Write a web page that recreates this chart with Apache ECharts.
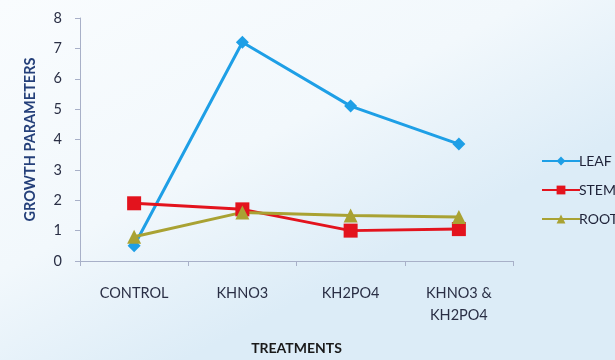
<!DOCTYPE html>
<html>
<head>
<meta charset="utf-8">
<script src="https://cdn.jsdelivr.net/npm/echarts@6/dist/echarts.min.js"></script>
<style>
  html, body { margin: 0; padding: 0; }
  #chart { width: 615px; height: 360px; }
</style>
</head>
<body>
<div id="chart"></div>
<script>
// Treatments on the x axis
const treatments = ['CONTROL', 'KHNO3', 'KH2PO4', 'KHNO3 &\nKH2PO4'];
// Growth parameter values per plant part
const leaf = [0.5, 7.2, 5.1, 3.85];
const stem = [1.9, 1.7, 1.0, 1.05];
const root = [0.8, 1.6, 1.5, 1.45];
const yTicks = [0, 1, 2, 3, 4, 5, 6, 7, 8];

const FONT = 'Lato, "Open Sans", sans-serif';
const chart = echarts.init(document.getElementById('chart'));

chart.setOption({
  backgroundColor: new echarts.graphic.LinearGradient(0, 0, 0.3, 1, [
    { offset: 0, color: '#f9fcfe' },
    { offset: 0.6, color: '#f2f8fc' },
    { offset: 1, color: '#dcecf7' }
  ]),
  textStyle: { fontFamily: FONT },
  grid: { left: 80, right: 102, top: 18, bottom: 98 },
  legend: {
    orient: 'vertical',
    left: 536,
    top: 149,
    itemGap: 15,
    itemWidth: 38,
    itemHeight: 11,
    textStyle: { fontFamily: FONT, fontSize: 14, color: '#1e2238', padding: [0, 0, 0, -6] },
    data: ['LEAF', 'STEM', 'ROOT']
  },
  xAxis: {
    type: 'category',
    data: treatments,
    boundaryGap: true,
    name: 'TREATMENTS',
    nameLocation: 'middle',
    nameGap: 80,
    nameTextStyle: { fontFamily: FONT, fontWeight: 'bold', fontSize: 14, color: '#1a1a1a' },
    axisLine: { lineStyle: { color: '#a8b0c8', width: 1 } },
    axisTick: { show: true, length: 5, lineStyle: { color: '#a8b0c8' } },
    axisLabel: { fontFamily: FONT, fontSize: 14.5, color: '#2a2f45', margin: 21, lineHeight: 22, verticalAlign: 'top' }
  },
  yAxis: {
    type: 'value',
    min: yTicks[0],
    max: yTicks[yTicks.length - 1],
    interval: 1,
    name: 'GROWTH PARAMETERS',
    nameLocation: 'middle',
    nameGap: 42,
    nameRotate: 90,
    nameTextStyle: { fontFamily: FONT, fontWeight: 'bold', fontSize: 14.5, color: '#25407a' },
    axisLine: { show: true, lineStyle: { color: '#a8b0c8', width: 1 } },
    axisTick: { show: true, length: 5, lineStyle: { color: '#a8b0c8' } },
    splitLine: { show: false },
    axisLabel: { fontFamily: FONT, fontSize: 14.5, color: '#2a2f45', margin: 18 }
  },
  series: [
    {
      name: 'LEAF', type: 'line', data: leaf,
      symbol: 'diamond', symbolSize: 13,
      itemStyle: { color: '#1e9fe6' },
      lineStyle: { color: '#1e9fe6', width: 3 }
    },
    {
      name: 'STEM', type: 'line', data: stem,
      symbol: 'rect', symbolSize: 14,
      itemStyle: { color: '#e3131d' },
      lineStyle: { color: '#e3131d', width: 3 }
    },
    {
      name: 'ROOT', type: 'line', data: root,
      symbol: 'triangle', symbolSize: 14,
      itemStyle: { color: '#a9a233' },
      lineStyle: { color: '#a9a233', width: 3 }
    }
  ],
  animation: false
});
</script>
</body>
</html>
